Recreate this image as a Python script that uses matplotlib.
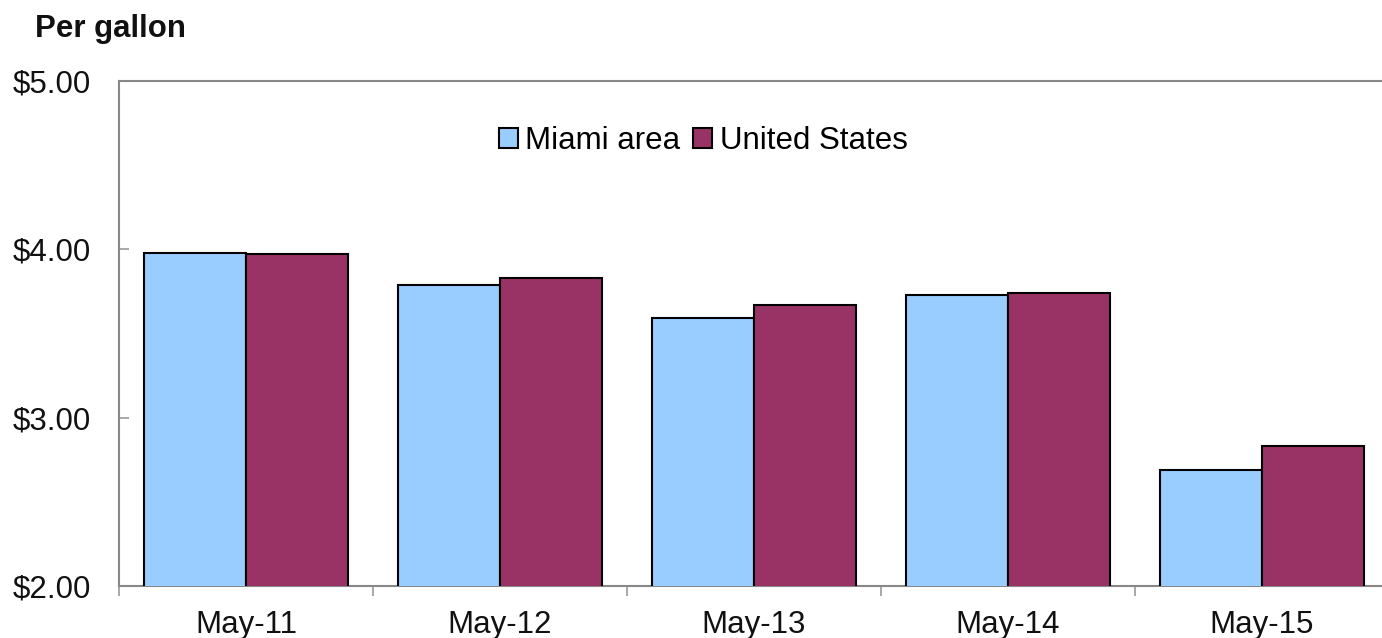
import matplotlib
matplotlib.use("Agg")
import matplotlib.pyplot as plt
import numpy as np

# data
months = ["May-11", "May-12", "May-13", "May-14", "May-15"]
miami = [3.98, 3.79, 3.59, 3.73, 2.69]
united_states = [3.97, 3.83, 3.67, 3.74, 2.83]
yticks = [2.0, 3.0, 4.0, 5.0]

plt.rcParams['font.family'] = ['Liberation Sans', 'DejaVu Sans']
FS = 22.5

fig = plt.figure(figsize=(13.82, 6.38), dpi=100)
ax = fig.add_axes([0.0861, 0.0815, 0.9189, 0.7915])

x = np.arange(len(months))
w = 0.4
ax.bar(x - w / 2, miami, w, color="#99CCFF", edgecolor="black",
       linewidth=1.5, label="Miami area", zorder=3)
ax.bar(x + w / 2, united_states, w, color="#993366", edgecolor="black",
       linewidth=1.5, label="United States", zorder=3)

ax.set_ylim(2.0, 5.0)
ax.set_xlim(-0.5, len(months) - 0.5)
ax.set_yticks(yticks)
ax.set_yticklabels(["${:.2f}".format(v) for v in yticks])
ax.set_xticks(x)
ax.set_xticklabels(months)
ax.set_xticks(np.arange(-0.5, len(months), 1.0), minor=True)

ax.tick_params(axis="y", direction="in", length=7, width=1.2, color="#999999",
               labelsize=FS, pad=20, labelcolor="#111111")
ax.tick_params(axis="x", which="major", length=0, labelsize=FS, pad=17,
               labelcolor="#111111")
ax.tick_params(axis="x", which="minor", direction="out", length=7, width=1.2,
               color="#999999")

for s in ax.spines.values():
    s.set_color("#888888")
    s.set_linewidth(1.5)

ax.legend(loc="upper center", bbox_to_anchor=(0.46, 0.935), ncol=2, frameon=False,
          fontsize=FS, handlelength=0.6, handleheight=0.6, handletextpad=0.25,
          columnspacing=0.4, borderaxespad=0)

fig.text(0.025, 0.955, "Per gallon", fontsize=FS, fontweight="bold",
         ha="left", va="center", color="#111111")

fig.savefig("out.png", dpi=100)
